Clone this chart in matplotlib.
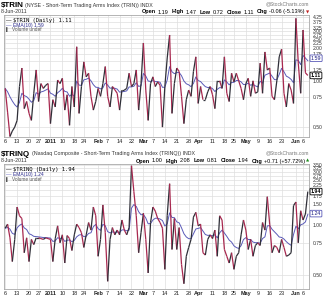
import numpy as np
import pandas as pd
import matplotlib; matplotlib.use("Agg")
import matplotlib.pyplot as plt
from matplotlib.collections import LineCollection
from matplotlib.transforms import blended_transform_factory
from matplotlib.ticker import NullLocator

plt.rcParams['font.family'] = ['Liberation Sans', 'DejaVu Sans']

W, H = 323, 300
UP = "#2f2f38"; DOWN = "#a8284f"; EMA_C = "#5a5ab8"; GRID = "#dedede"; FRAME = "#a8a8a8"

# ── data ──
trin = [0.87, 0.60, 0.455, 0.48, 0.50, 0.54, 0.90, 1.29, 0.63, 0.70,
        0.59, 0.54, 0.80, 1.24, 0.70, 0.95, 0.87, 0.92, 0.95, 0.52,
        0.72, 0.645, 1.015, 0.95, 1.05, 0.617, 0.78, 0.51, 0.90, 0.645,
        2.06, 0.59, 0.90, 1.47, 1.08, 1.16, 0.76, 0.617, 0.70, 0.87,
        0.76, 0.95, 1.33, 0.76, 0.645, 0.90, 0.85, 0.80, 0.617, 0.845,
        0.845, 0.87, 1.16, 0.90, 0.95, 1.24, 0.617, 0.95, 2.25, 0.845,
        0.54, 0.95, 1.08, 0.90, 0.98, 0.92, 0.50, 0.90, 1.60, 2.72,
        0.59, 0.95, 1.29, 1.20, 0.76, 0.52, 0.72, 0.845, 0.76, 1.20,
        1.64, 0.68, 0.90, 0.72, 0.72, 0.82, 0.90, 0.78, 0.63, 1.00,
        1.00, 0.87, 1.64, 0.80, 0.70, 1.16, 0.98, 1.16, 1.00, 0.87,
        0.72, 0.95, 1.05, 0.76, 1.00, 0.80, 0.82, 1.43, 0.80, 1.83,
        1.24, 1.29, 0.76, 0.72, 1.00, 1.64, 1.95, 0.80, 0.645, 0.95,
        0.845, 0.68, 4.10, 1.43, 0.80, 3.07, 1.17, 1.11]

trinq = [0.95, 1.02, 0.81, 0.58, 0.79, 1.41, 1.19, 1.13, 0.65, 0.81,
         0.58, 0.79, 0.73, 0.81, 0.81, 0.80, 0.79, 0.81, 0.80, 0.79,
         0.58, 0.80, 0.99, 0.75, 0.85, 0.57, 0.84, 0.80, 0.67, 0.85,
         1.02, 0.96, 0.88, 0.70, 0.85, 1.05, 0.92, 1.41, 1.19, 0.62,
         0.79, 1.47, 0.88, 0.47, 0.79, 0.96, 0.85, 0.92, 0.85, 1.10,
         0.92, 0.85, 0.96, 3.45, 1.94, 1.19, 0.65, 0.88, 1.25, 0.79,
         0.51, 1.05, 1.41, 1.30, 1.13, 1.05, 0.95, 0.53, 1.20, 2.30,
         0.68, 1.13, 0.68, 0.96, 0.56, 0.46, 0.62, 0.70, 0.79, 1.16,
         1.27, 0.99, 1.02, 0.65, 0.63, 0.79, 0.85, 0.80, 0.92, 0.62,
         1.19, 1.10, 0.68, 0.62, 0.57, 0.65, 0.53, 0.62, 0.65, 0.85,
         1.10, 0.92, 0.68, 0.79, 0.62, 0.72, 0.75, 0.72, 1.05, 0.92,
         1.74, 1.02, 0.65, 0.72, 0.70, 0.65, 0.79, 0.70, 0.62, 0.63,
         0.65, 1.45, 1.56, 0.75, 1.31, 1.10, 1.23, 1.94]

holidays = ["2010-12-24", "2011-01-17", "2011-02-21", "2011-04-22", "2011-05-30"]
dates = pd.bdate_range("2010-12-06", "2011-06-08")
dates = dates[~dates.isin(pd.to_datetime(holidays))]

tick_dates = ["2010-12-06", "2010-12-13", "2010-12-20", "2010-12-27", "2011-01-03",
              "2011-01-10", "2011-01-18", "2011-01-24", "2011-02-01", "2011-02-07",
              "2011-02-14", "2011-02-22", "2011-03-01", "2011-03-07", "2011-03-14",
              "2011-03-21", "2011-03-28", "2011-04-01", "2011-04-11", "2011-04-18",
              "2011-04-25", "2011-05-02", "2011-05-09", "2011-05-16", "2011-05-23",
              "2011-06-01", "2011-06-06"]
tick_labels = ["6", "13", "20", "27", "2011", "10", "18", "24", "Feb", "7", "14", "22",
               "Mar", "7", "14", "21", "28", "Apr", "11", "18", "25", "May", "9", "16",
               "23", "Jun", "6"]
bold_labels = {"2011", "Feb", "Mar", "Apr", "May", "Jun"}

# grid levels; labels hidden under the value boxes are left blank
trin_grid = [0.50, 0.75, 1.00, 1.25, 1.50, 1.75, 2.00, 2.25, 2.50, 2.75, 3.00, 3.25, 3.75, 4.25]
trin_hidden = [1.50]
trinq_grid = [0.50, 0.75, 1.00, 1.25, 1.50, 1.75, 2.00, 2.25, 2.50, 2.75, 3.00, 3.25, 3.50]
trinq_hidden = [1.25, 2.00]

# stockcharts-like compressed log scale
def fwd(v): return np.log(np.clip(np.asarray(v, float) - 0.3, 1e-4, None))
def inv(f): return np.exp(f) + 0.3

fig = plt.figure(figsize=(W / 100, H / 100), dpi=100)
fig.patch.set_facecolor("white")

def fy(y): return 1 - y / H

def run(x, y, pieces, align="left"):
    r = fig.canvas.get_renderer()
    objs = []
    for s, gap, kw in pieces:
        t = fig.text(0, fy(y), s, va="center", ha="left", **kw)
        objs.append((t, gap))
    widths = [t.get_window_extent(r).width + g for t, g in objs]
    cur = x - sum(widths) if align == "right" else x
    for (t, g), w in zip(objs, widths):
        t.set_x(cur / W)
        cur += w

def panel(top_px, h_px, vals, ylim, ygrid, yhidden, name, desc, info, last_lbl, ema_lbl, chg_up):
    ax = fig.add_axes([4 / W, fy(top_px + h_px), 305 / W, h_px / H])
    v = np.asarray(vals, float)
    x = np.arange(len(v))
    ema = pd.Series(v).ewm(span=10, adjust=False).mean().values
    ax.set_yscale("function", functions=(fwd, inv))
    ax.set_xlim(-0.5, len(v) - 0.5)
    ax.set_ylim(*ylim)
    tick_idx = [dates.get_loc(pd.Timestamp(d)) for d in tick_dates]
    ax.set_xticks(tick_idx)
    ax.set_xticklabels(tick_labels)
    for t in ax.get_xticklabels():
        t.set_fontweight("bold" if t.get_text() in bold_labels else "normal")
    ax.set_yticks(ygrid)
    ax.set_yticklabels(["" if t in yhidden else f"{t:.2f}" for t in ygrid])
    ax.yaxis.set_minor_locator(NullLocator())
    ax.yaxis.tick_right()
    ax.tick_params(axis="x", length=0, labelsize=4, pad=1.5, colors="#222222")
    ax.tick_params(axis="y", length=0, labelsize=3.6, pad=2.5, colors="#333333")
    ax.grid(True, color=GRID, lw=0.5)
    ax.set_axisbelow(True)
    for s in ax.spines.values():
        s.set_color(FRAME); s.set_linewidth(0.6)

    ax.plot(x, ema, color=EMA_C, lw=0.7, zorder=2)
    pts = np.column_stack([x, v])
    segs = np.stack([pts[:-1], pts[1:]], axis=1)
    cols = [UP if b >= a else DOWN for a, b in zip(v[:-1], v[1:])]
    ax.add_collection(LineCollection(segs, colors=cols, lw=0.9, zorder=3))

    bt = blended_transform_factory(ax.transAxes, ax.transData)
    ax.text(1.006, float(ema_lbl), ema_lbl, transform=bt, fontsize=3.8, va="center", ha="left",
            color="#1a1a80", bbox=dict(boxstyle="round,pad=0.15", fc="white", ec=EMA_C, lw=0.6), zorder=5)
    ax.text(1.006, float(last_lbl), last_lbl, transform=bt, fontsize=3.8, va="center", ha="left",
            color="black", fontweight="bold",
            bbox=dict(boxstyle="round,pad=0.15", fc="white", ec="black", lw=0.6), zorder=5)

    # in-plot legend
    ax.text(0.008, 0.955, "\u2014", transform=ax.transAxes, fontsize=4, color="black", va="center")
    ax.text(0.03, 0.955, f"{name} (Daily) {last_lbl}", transform=ax.transAxes, fontsize=4,
            family="DejaVu Sans Mono", va="center")
    ax.text(0.008, 0.915, "\u2014", transform=ax.transAxes, fontsize=4, color=EMA_C, va="center")
    ax.text(0.03, 0.915, f"EMA(10) {ema_lbl}", transform=ax.transAxes, fontsize=3.6,
            color="#303090", va="center")
    ax.text(0.008, 0.878, "\u258c", transform=ax.transAxes, fontsize=3, color="#555555", va="center")
    ax.text(0.025, 0.878, "Volume undef", transform=ax.transAxes, fontsize=3.4,
            color="#555555", va="center")

    # header lines
    run(1, top_px - 10, [(name, 1.5, dict(fontsize=5.8, fontweight="bold")),
                         (desc, 0, dict(fontsize=3.8, color="#333333"))])
    run(309, top_px - 11, [("@StockCharts.com", 0, dict(fontsize=3.6, color="#777777"))], align="right")
    run(1, top_px - 3.5, [("8-Jun-2011", 0, dict(fontsize=3.8, color="#333333"))])
    pieces = []
    for k, (lab, val) in enumerate(info):
        pieces.append((lab, 1.5, dict(fontsize=4, fontweight="bold")))
        pieces.append((val, 3.5 if k < len(info) - 1 else 1, dict(fontsize=4)))
    pieces.append(("\u25B2" if chg_up else "\u25BC", 0,
                   dict(fontsize=3, color="#1a8a1a" if chg_up else "#c02020", family="DejaVu Sans")))
    run(309, top_px - 3, pieces, align="right")
    return ax

panel(15, 122, trin, (0.453, 4.46), trin_grid, trin_hidden, "$TRIN",
      "(NYSE - Short-Term Trading Arms Index (TRIN)) INDX",
      [("Open", "1.19"), ("High", "1.47"), ("Low", "0.72"), ("Close", "1.11"),
       ("Chg", "-0.06 (-5.13%)")], "1.11", "1.59", False)
panel(164, 125, trinq, (0.44, 3.59), trinq_grid, trinq_hidden, "$TRINQ",
      "(Nasdaq Composite - Short-Term Trading Arms Index (TRINQ)) INDX",
      [("Open", "1.00"), ("High", "2.08"), ("Low", "0.81"), ("Close", "1.94"),
       ("Chg", "+0.71 (+57.72%)")], "1.94", "1.24", True)

fig.savefig("out.png", dpi=100, facecolor="white")
